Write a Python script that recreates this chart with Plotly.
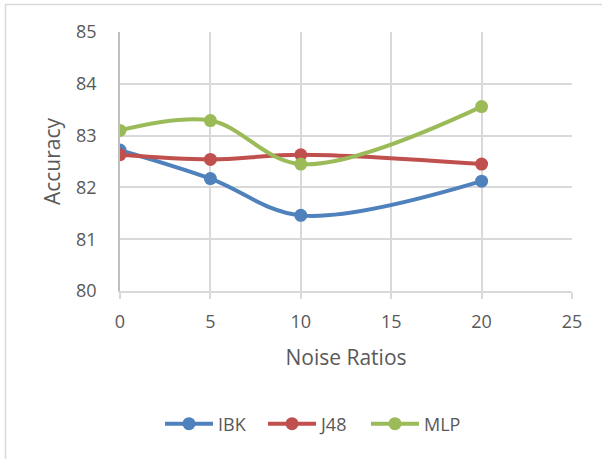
import plotly.graph_objects as go

noise = [0, 5, 10, 20]
ibk = [82.72, 82.17, 81.46, 82.12]
j48 = [82.63, 82.54, 82.63, 82.45]
mlp = [83.10, 83.29, 82.45, 83.56]
series_names = ["IBK", "J48", "MLP"]
colors = ["#4F81BD", "#C0504D", "#9BBB59"]

fig = go.Figure()
for name, vals, col in zip(series_names, [ibk, j48, mlp], colors):
    fig.add_trace(go.Scatter(
        x=noise, y=vals, name=name, mode="lines+markers",
        line=dict(color=col, width=4, shape="spline", smoothing=1.0),
        marker=dict(color=col, size=13),
    ))

font_fam = "Open Sans, Liberation Sans, sans-serif"
L, R, T, B = 120, 572, 32, 291
W, H = 602, 459
pw, ph = R - L, B - T

def px_x(p):
    return (p - L) / pw

def px_y(p):
    return (B - p) / ph

fig.update_layout(
    width=W, height=H,
    margin=dict(l=L, r=W - R, t=T, b=H - B),
    paper_bgcolor="white", plot_bgcolor="white",
    font=dict(family=font_fam, color="#595959", size=18),
    showlegend=True,
    legend=dict(orientation="h", x=px_x(160), xanchor="left", y=px_y(424), yanchor="middle",
                font=dict(size=18, color="#595959"), itemwidth=48,
                entrywidth=40, entrywidthmode="pixels", tracegroupgap=0),
    xaxis=dict(range=[0, 25], tickvals=[0, 5, 10, 15, 20, 25],
               showgrid=True, gridcolor="#D9D9D9", gridwidth=1.5,
               zeroline=False, showline=True, linecolor="#D9D9D9", linewidth=1.5,
               ticks="outside", ticklen=6, tickcolor="#D9D9D9", tickwidth=1.5,
               tickfont=dict(size=18, color="#595959"), ticklabelstandoff=8,
               title=dict(text="Noise Ratios", font=dict(size=21, color="#595959"), standoff=18)),
    yaxis=dict(range=[80, 85], tickvals=[80, 81, 82, 83, 84, 85],
               showgrid=True, gridcolor="#D9D9D9", gridwidth=1.5,
               zeroline=False, showline=True, linecolor="#BFBFBF", linewidth=1.5,
               ticks="", tickfont=dict(size=18, color="#595959"),
               ticklabelstandoff=18,
               title=dict(text="Accuracy", font=dict(size=21, color="#595959"), standoff=10)),
    shapes=[
        dict(type="line", xref="paper", yref="paper", x0=px_x(5), x1=px_x(602), y0=px_y(4.5), y1=px_y(4.5),
             line=dict(color="#D9D9D9", width=1.5)),
        dict(type="line", xref="paper", yref="paper", x0=px_x(5.5), x1=px_x(5.5), y0=px_y(4), y1=px_y(459),
             line=dict(color="#D9D9D9", width=1.5)),
    ],
)

fig.write_html("out.html", config={"displayModeBar": False},
               post_script="document.body.style.margin='0';")
